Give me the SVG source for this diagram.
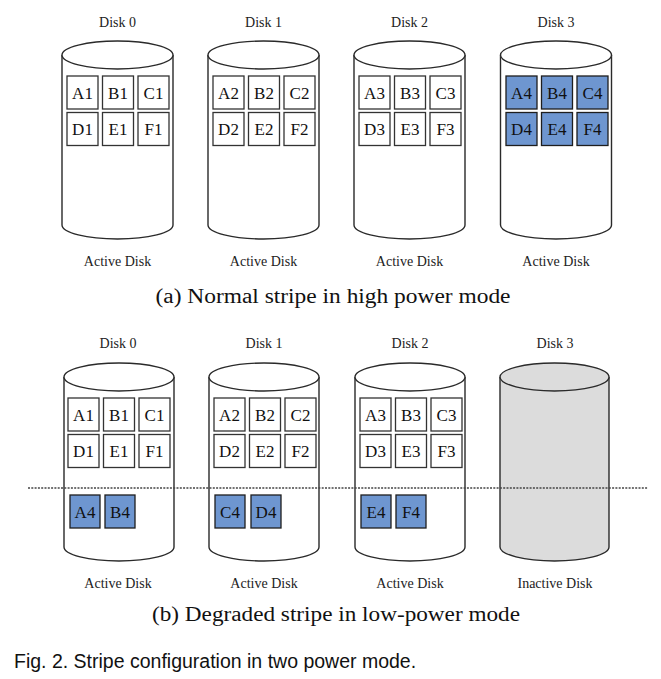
<svg xmlns="http://www.w3.org/2000/svg" width="661" height="679" viewBox="0 0 661 679">
<style>
.bg{fill:#ffffff}
.cyl{fill:#ffffff;stroke:#2a2a2a;stroke-width:1.4}
.cyl.off{fill:#dcdcdc}
.box{fill:#ffffff;stroke:#333333;stroke-width:1.3}
.box.blue{fill:#6e96d0;stroke:#1e1e1e}
.lbl{font-family:"Liberation Serif","Times New Roman",serif;font-size:14px;fill:#222;text-anchor:middle}
.bt{font-family:"Liberation Serif","Times New Roman",serif;font-size:17px;fill:#111;text-anchor:middle}
.cap{font-family:"Liberation Serif","Times New Roman",serif;font-size:20px;fill:#111;text-anchor:middle}
.fig{font-family:"Liberation Sans",Arial,sans-serif;font-size:19.5px;fill:#111}
.sep{stroke:#444;stroke-width:1.4;stroke-dasharray:2 1.3;fill:none}
</style>
<rect class="bg" x="0" y="0" width="661" height="679"/>

<!-- (a) top row -->
<g id="a-disk0">
<text class="lbl" x="117.5" y="27">Disk 0</text>
<path class="cyl" d="M62,55 L62,225 A55.5,14 0 0 0 173,225 L173,55"/>
<ellipse class="cyl" cx="117.5" cy="55" rx="55.5" ry="14"/>
<rect class="box" x="67" y="76" width="31" height="33"/><text class="bt" x="82.5" y="98.5">A1</text>
<rect class="box" x="102.5" y="76" width="31" height="33"/><text class="bt" x="118" y="98.5">B1</text>
<rect class="box" x="138" y="76" width="31" height="33"/><text class="bt" x="153.5" y="98.5">C1</text>
<rect class="box" x="67" y="112.5" width="31" height="33"/><text class="bt" x="82.5" y="135">D1</text>
<rect class="box" x="102.5" y="112.5" width="31" height="33"/><text class="bt" x="118" y="135">E1</text>
<rect class="box" x="138" y="112.5" width="31" height="33"/><text class="bt" x="153.5" y="135">F1</text>
<text class="lbl" x="117.5" y="266">Active Disk</text>
</g>
<g id="a-disk1">
<text class="lbl" x="263.5" y="27">Disk 1</text>
<path class="cyl" d="M208,55 L208,225 A55.5,14 0 0 0 319,225 L319,55"/>
<ellipse class="cyl" cx="263.5" cy="55" rx="55.5" ry="14"/>
<rect class="box" x="213" y="76" width="31" height="33"/><text class="bt" x="228.5" y="98.5">A2</text>
<rect class="box" x="248.5" y="76" width="31" height="33"/><text class="bt" x="264" y="98.5">B2</text>
<rect class="box" x="284" y="76" width="31" height="33"/><text class="bt" x="299.5" y="98.5">C2</text>
<rect class="box" x="213" y="112.5" width="31" height="33"/><text class="bt" x="228.5" y="135">D2</text>
<rect class="box" x="248.5" y="112.5" width="31" height="33"/><text class="bt" x="264" y="135">E2</text>
<rect class="box" x="284" y="112.5" width="31" height="33"/><text class="bt" x="299.5" y="135">F2</text>
<text class="lbl" x="263.5" y="266">Active Disk</text>
</g>
<g id="a-disk2">
<text class="lbl" x="409.5" y="27">Disk 2</text>
<path class="cyl" d="M354,55 L354,225 A55.5,14 0 0 0 465,225 L465,55"/>
<ellipse class="cyl" cx="409.5" cy="55" rx="55.5" ry="14"/>
<rect class="box" x="359" y="76" width="31" height="33"/><text class="bt" x="374.5" y="98.5">A3</text>
<rect class="box" x="394.5" y="76" width="31" height="33"/><text class="bt" x="410" y="98.5">B3</text>
<rect class="box" x="430" y="76" width="31" height="33"/><text class="bt" x="445.5" y="98.5">C3</text>
<rect class="box" x="359" y="112.5" width="31" height="33"/><text class="bt" x="374.5" y="135">D3</text>
<rect class="box" x="394.5" y="112.5" width="31" height="33"/><text class="bt" x="410" y="135">E3</text>
<rect class="box" x="430" y="112.5" width="31" height="33"/><text class="bt" x="445.5" y="135">F3</text>
<text class="lbl" x="409.5" y="266">Active Disk</text>
</g>
<g id="a-disk3">
<text class="lbl" x="556" y="27">Disk 3</text>
<path class="cyl" d="M500.5,55 L500.5,225 A55.5,14 0 0 0 611.5,225 L611.5,55"/>
<ellipse class="cyl" cx="556" cy="55" rx="55.5" ry="14"/>
<rect class="box blue" x="506" y="76" width="31" height="33"/><text class="bt" x="521.5" y="98.5">A4</text>
<rect class="box blue" x="541.5" y="76" width="31" height="33"/><text class="bt" x="557" y="98.5">B4</text>
<rect class="box blue" x="577" y="76" width="31" height="33"/><text class="bt" x="592.5" y="98.5">C4</text>
<rect class="box blue" x="506" y="112.5" width="31" height="33"/><text class="bt" x="521.5" y="135">D4</text>
<rect class="box blue" x="541.5" y="112.5" width="31" height="33"/><text class="bt" x="557" y="135">E4</text>
<rect class="box blue" x="577" y="112.5" width="31" height="33"/><text class="bt" x="592.5" y="135">F4</text>
<text class="lbl" x="556" y="266">Active Disk</text>
</g>
<text id="caption-a" class="cap" x="333" y="303" textLength="355" lengthAdjust="spacingAndGlyphs">(a) Normal stripe in high power mode</text>

<!-- (b) bottom row -->
<g id="b-disk0">
<text class="lbl" x="118" y="348">Disk 0</text>
<path class="cyl" d="M64,377 L64,547 A55,14 0 0 0 174,547 L174,377"/>
<ellipse class="cyl" cx="119" cy="377" rx="55" ry="14"/>
<rect class="box" x="68" y="398" width="31" height="33"/><text class="bt" x="83.5" y="420.5">A1</text>
<rect class="box" x="103.5" y="398" width="31" height="33"/><text class="bt" x="119" y="420.5">B1</text>
<rect class="box" x="139" y="398" width="31" height="33"/><text class="bt" x="154.5" y="420.5">C1</text>
<rect class="box" x="68" y="434.5" width="31" height="33"/><text class="bt" x="83.5" y="457">D1</text>
<rect class="box" x="103.5" y="434.5" width="31" height="33"/><text class="bt" x="119" y="457">E1</text>
<rect class="box" x="139" y="434.5" width="31" height="33"/><text class="bt" x="154.5" y="457">F1</text>
<rect class="box blue" x="70" y="495" width="30" height="33"/><text class="bt" x="85" y="517.5">A4</text>
<rect class="box blue" x="105" y="495" width="30" height="33"/><text class="bt" x="120" y="517.5">B4</text>
<text class="lbl" x="118" y="588">Active Disk</text>
</g>
<g id="b-disk1">
<text class="lbl" x="264" y="348">Disk 1</text>
<path class="cyl" d="M209,377 L209,547 A55,14 0 0 0 319,547 L319,377"/>
<ellipse class="cyl" cx="264" cy="377" rx="55" ry="14"/>
<rect class="box" x="214" y="398" width="31" height="33"/><text class="bt" x="229.5" y="420.5">A2</text>
<rect class="box" x="249.5" y="398" width="31" height="33"/><text class="bt" x="265" y="420.5">B2</text>
<rect class="box" x="285" y="398" width="31" height="33"/><text class="bt" x="300.5" y="420.5">C2</text>
<rect class="box" x="214" y="434.5" width="31" height="33"/><text class="bt" x="229.5" y="457">D2</text>
<rect class="box" x="249.5" y="434.5" width="31" height="33"/><text class="bt" x="265" y="457">E2</text>
<rect class="box" x="285" y="434.5" width="31" height="33"/><text class="bt" x="300.5" y="457">F2</text>
<rect class="box blue" x="215" y="495" width="30" height="33"/><text class="bt" x="230" y="517.5">C4</text>
<rect class="box blue" x="251" y="495" width="30" height="33"/><text class="bt" x="266" y="517.5">D4</text>
<text class="lbl" x="264" y="588">Active Disk</text>
</g>
<g id="b-disk2">
<text class="lbl" x="410" y="348">Disk 2</text>
<path class="cyl" d="M355,377 L355,547 A55,14 0 0 0 465,547 L465,377"/>
<ellipse class="cyl" cx="410" cy="377" rx="55" ry="14"/>
<rect class="box" x="360" y="398" width="31" height="33"/><text class="bt" x="375.5" y="420.5">A3</text>
<rect class="box" x="395.5" y="398" width="31" height="33"/><text class="bt" x="411" y="420.5">B3</text>
<rect class="box" x="431" y="398" width="31" height="33"/><text class="bt" x="446.5" y="420.5">C3</text>
<rect class="box" x="360" y="434.5" width="31" height="33"/><text class="bt" x="375.5" y="457">D3</text>
<rect class="box" x="395.5" y="434.5" width="31" height="33"/><text class="bt" x="411" y="457">E3</text>
<rect class="box" x="431" y="434.5" width="31" height="33"/><text class="bt" x="446.5" y="457">F3</text>
<rect class="box blue" x="361" y="495" width="30" height="33"/><text class="bt" x="376" y="517.5">E4</text>
<rect class="box blue" x="396" y="495" width="30" height="33"/><text class="bt" x="411" y="517.5">F4</text>
<text class="lbl" x="410" y="588">Active Disk</text>
</g>
<g id="b-disk3">
<text class="lbl" x="555" y="348">Disk 3</text>
<path class="cyl off" d="M500,377 L500,547 A54.5,14 0 0 0 609,547 L609,377"/>
<ellipse class="cyl off" cx="554.5" cy="377" rx="54.5" ry="14"/>
<text class="lbl" x="555" y="588">Inactive Disk</text>
</g>
<line id="threshold" class="sep" x1="28" y1="488" x2="648" y2="488"/>
<text id="caption-b" class="cap" x="336" y="621" textLength="368" lengthAdjust="spacingAndGlyphs">(b) Degraded stripe in low-power mode</text>

<text id="fig-caption" class="fig" x="14" y="668">Fig. 2. Stripe configuration in two power mode.</text>
</svg>
